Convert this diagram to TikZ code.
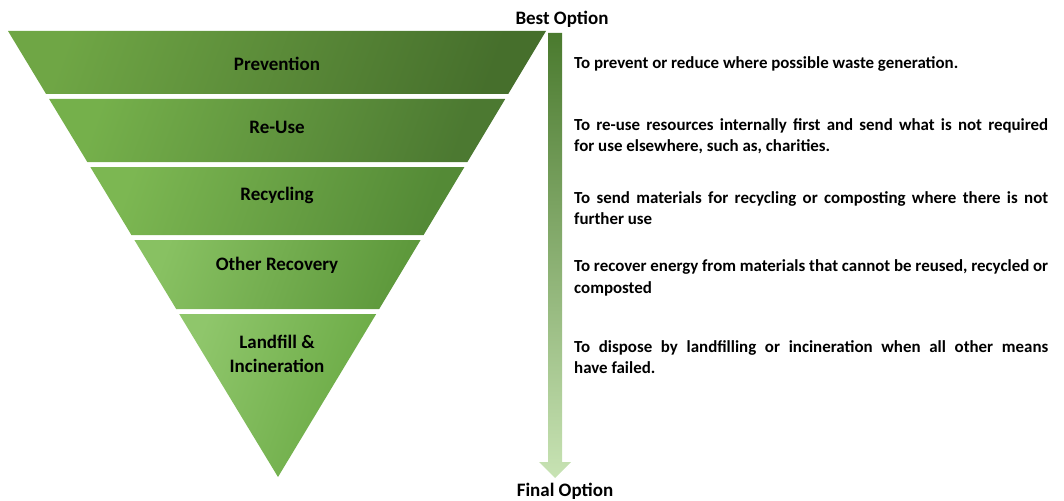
\documentclass[tikz,border=0pt]{standalone}
\usepackage{fontspec}
\setmainfont{Carlito}
\usetikzlibrary{calc}
\hyphenpenalty=10000
\exhyphenpenalty=10000
\definecolor{dk1}{HTML}{466F2C}
\definecolor{lt1}{HTML}{6FA645}
\definecolor{dk2}{HTML}{4C7931}
\definecolor{lt2}{HTML}{75B04B}
\definecolor{dk3}{HTML}{548A36}
\definecolor{lt3}{HTML}{7CB752}
\definecolor{dk4}{HTML}{5E993C}
\definecolor{lt4}{HTML}{88C162}
\definecolor{dk5}{HTML}{68A842}
\definecolor{lt5}{HTML}{8FC66B}
\definecolor{arrtop}{HTML}{4A7A2E}
\definecolor{arrmid}{HTML}{70AC47}
\definecolor{arrbot}{HTML}{C8E3B4}
\tikzset{
  lvl/.style={font=\bfseries\fontsize{19}{24}\selectfont, text=black, align=center},
  desc/.style={font=\bfseries\fontsize{16.9}{21.5}\selectfont, text=black, align=justify, text width=474pt, anchor=west, inner sep=0pt},
  opt/.style={font=\bfseries\fontsize{19}{22}\selectfont, text=black, inner sep=0pt},
  band/.style={shading=axis, shading angle=70}
}
\begin{document}
\begin{tikzpicture}[x=1pt,y=-1pt]
\useasboundingbox (0,0) rectangle (1064,500);
% bands
\shade[band, left color=lt1, right color=dk1, shading angle=70] (8,31) -- (546,31) -- (508.2,94) -- (46.1,94) -- cycle;
\shade[band, left color=lt2, right color=dk2, shading angle=70] (49.1,99) -- (505.2,99) -- (467.4,162) -- (87.3,162) -- cycle;
\shade[band, left color=lt3, right color=dk3, shading angle=70] (90.3,167) -- (464.4,167) -- (423.6,235) -- (131.4,235) -- cycle;
\shade[band, left color=lt4, right color=dk4, shading angle=70] (134.4,240) -- (420.6,240) -- (379.2,309) -- (176.2,309) -- cycle;
\shade[band, left color=lt5, right color=dk5, shading angle=70] (179.2,314) -- (376.2,314) -- (278,477) -- cycle;
% labels
\node[lvl] (l1) at (277,64) {Prevention};
\node[lvl] (l2) at (277,127) {Re-Use};
\node[lvl] (l3) at (277,195) {Recycling};
\node[lvl] (l4) at (277,265) {Other Recovery};
\node[lvl] (l5) at (277,354) {Landfill \&\\Incineration};
% arrow
\node[opt] (best) at (562,19) {Best Option};
\node[opt] (final) at (565,491) {Final Option};
\coordinate (atop) at (555,33);
\coordinate (abot) at (555,478);
\shade[top color=arrtop, middle color=arrmid, bottom color=arrbot]
  ($(atop)+(-7,0)$) -- ($(atop)+(7,0)$) -- ($(abot)+(7,-16)$) -- ($(abot)+(16,-16)$) -- (abot)
  -- ($(abot)+(-16,-16)$) -- ($(abot)+(-7,-16)$) -- cycle;
% descriptions
\node[desc] (d1) at (574,64) {To prevent or reduce where possible waste generation.};
\node[desc] (d2) at (574,136) {To re-use resources internally first and send what is not required\linebreak for use elsewhere, such as, charities.};
\node[desc] (d3) at (574,208) {To send materials for recycling or composting where there is not further use};
\node[desc] (d4) at (574,278) {To recover energy from materials that cannot be reused, recycled or composted};
\node[desc] (d5) at (574,357) {To dispose by landfilling or incineration when all other means\linebreak have failed.};
\end{tikzpicture}
\end{document}
